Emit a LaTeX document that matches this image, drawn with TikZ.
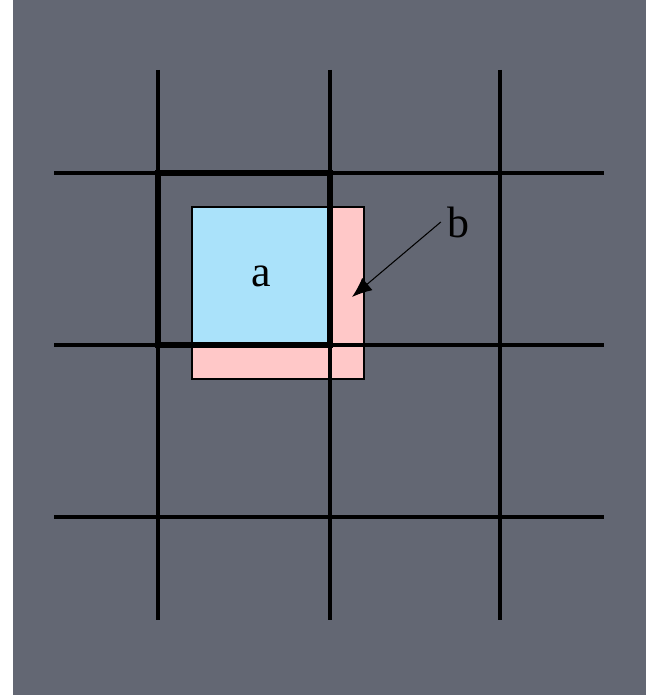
\documentclass[tikz,border=0pt]{standalone}
\usepackage{fontspec}
\setmainfont{Liberation Serif}
\usetikzlibrary{arrows.meta,positioning}
\definecolor{slate}{RGB}{99,103,115}
\definecolor{skyfill}{RGB}{170,226,250}
\definecolor{pinkfill}{RGB}{255,200,200}

\begin{document}
\begin{tikzpicture}[x=0.02cm,y=-0.02cm, gridline/.style={line width=2pt,black}, cellbox/.style={draw,line width=1.1pt,inner sep=0pt,font=\fontsize{25}{28}\selectfont}, >={Latex[length=4mm,width=3.2mm]}]
\useasboundingbox (0,0) rectangle (646,695);
\fill[white] (0,0) rectangle (646,695);
\fill[slate] (13,0) rectangle (646,695);
% squares and grid
\node[cellbox,fill=pinkfill,minimum width=3.44cm,minimum height=3.44cm] (b) at (278,293) {};
\foreach \gx in {158,330,500} \draw[gridline] (\gx,70) -- (\gx,620);
\foreach \gy in {173,345,517} \draw[gridline] (54,\gy) -- (604,\gy);
\node[cellbox,fill=skyfill,minimum width=2.76cm,minimum height=2.76cm] (a) at (261,276) {a};
\draw[line width=3.4pt] (158,173) rectangle (330,345);
% label b
\node[font=\fontsize{25}{28}\selectfont] (lb) at (458,222) {b};
\coordinate (tip) at (352,297);
\draw[->,line width=0.6pt] (lb.west) -- (tip);
\end{tikzpicture}
\end{document}
